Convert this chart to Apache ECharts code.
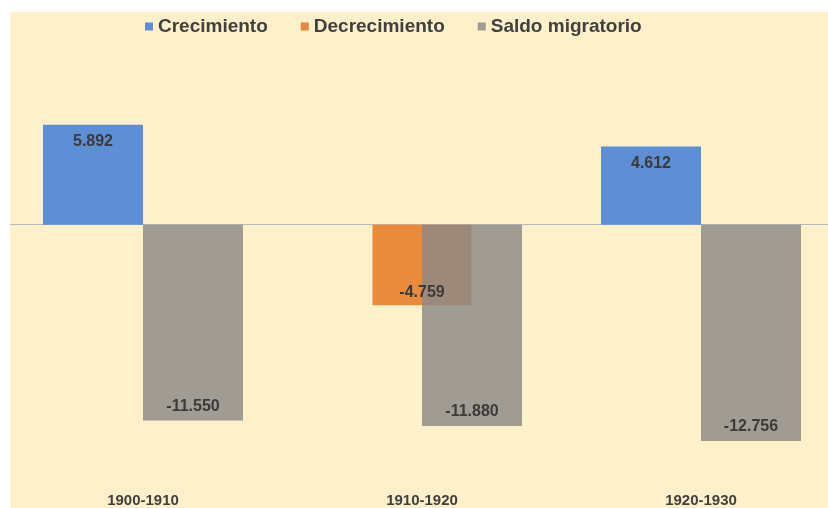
<!DOCTYPE html>
<html>
<head>
<meta charset="utf-8">
<script src="https://cdn.jsdelivr.net/npm/echarts@6/dist/echarts.min.js"></script>
<style>
html,body{margin:0;padding:0;background:#ffffff;overflow:hidden;}
#wrap{position:relative;width:828px;height:508px;background:#ffffff;overflow:hidden;}
#bg{position:absolute;left:10px;top:12px;width:818px;height:496px;background:#FDF0CA;}
#chart{position:absolute;left:0;top:0;width:850px;height:508px;}
#maskL{position:absolute;left:0;top:0;width:10px;height:508px;background:#ffffff;}
</style>
</head>
<body>
<div id="wrap"><div id="bg"></div><div id="chart"></div><div id="maskL"></div></div>
<script>
var categories = ['1900-1910', '1910-1920', '1920-1930'];
var crecimiento = [5892, null, 4612];
var decrecimiento = [null, -4759, null];
var saldoMigratorio = [-11550, -11880, -12756];
var seriesNames = ['Crecimiento', 'Decrecimiento', 'Saldo migratorio'];

function fmt(v) {
  var n = Math.round(Math.abs(v)).toString();
  var out = n.replace(/\B(?=(\d{3})+(?!\d))/g, '.');
  return (v < 0 ? '-' : '') + out;
}

var labelStyle = {
  show: true,
  fontFamily: 'Liberation Sans, Arial, sans-serif',
  fontWeight: 'bold',
  fontSize: 16,
  color: '#3a3a3a',
  formatter: function (p) { return fmt(p.value); }
};

var chart = echarts.init(document.getElementById('chart'), null, { width: 850, height: 508 });
chart.setOption({
  backgroundColor: 'transparent',
  animation: false,
  textStyle: { fontFamily: 'Liberation Sans, Arial, sans-serif' },
  legend: {
    data: seriesNames,
    left: 140,
    top: 12,
    itemWidth: 8,
    itemHeight: 8,
    itemGap: 33,
    icon: 'rect',
    textStyle: { fontSize: 19, fontWeight: 'bold', color: '#404040', fontFamily: 'Liberation Sans, Arial, sans-serif' }
  },
  grid: { left: 3.5, right: 9.5, top: 89, bottom: 44 },
  xAxis: [
    {
      type: 'category',
      data: categories,
      position: 'bottom',
      axisLine: { show: false, onZero: false },
      axisTick: { show: false },
      axisLabel: { margin: 31, fontSize: 15, fontWeight: 'bold', color: '#404040',
        fontFamily: 'Liberation Sans, Arial, sans-serif' }
    },
    {
      type: 'category',
      data: categories,
      position: 'bottom',
      axisLine: { show: true, onZero: true, lineStyle: { color: '#B8B8B8', width: 1 } },
      axisTick: { show: false },
      axisLabel: { show: false }
    }
  ],
  yAxis: {
    type: 'value',
    min: -14000,
    max: 8000,
    show: false,
    splitLine: { show: false }
  },
  series: [
    {
      name: seriesNames[0],
      type: 'bar',
      xAxisIndex: 0,
      data: crecimiento,
      barWidth: 100,
      barGap: '0%',
      itemStyle: { color: '#5E8ED4' },
      label: Object.assign({}, labelStyle, { position: 'insideTop', distance: 9 }),
      z: 2
    },
    {
      name: seriesNames[1],
      type: 'bar',
      xAxisIndex: 1,
      data: decrecimiento,
      barWidth: 99,
      itemStyle: { color: '#EA8A3C' },
      label: { show: false },
      z: 2
    },
    {
      name: seriesNames[2],
      type: 'bar',
      xAxisIndex: 0,
      data: saldoMigratorio,
      barWidth: 100,
      barGap: '0%',
      itemStyle: { color: 'rgba(140,137,134,0.82)' },
      label: Object.assign({}, labelStyle, { position: 'insideBottom', distance: 6 }),
      z: 3
    },
    {
      name: seriesNames[1] + ' etiqueta',
      type: 'bar',
      xAxisIndex: 1,
      data: decrecimiento,
      barWidth: 99,
      barGap: '-100%',
      itemStyle: { color: 'rgba(0,0,0,0)' },
      label: Object.assign({}, labelStyle, { position: 'insideBottom', distance: 5 }),
      silent: true,
      z: 4
    }
  ]
});
</script>
</body>
</html>
